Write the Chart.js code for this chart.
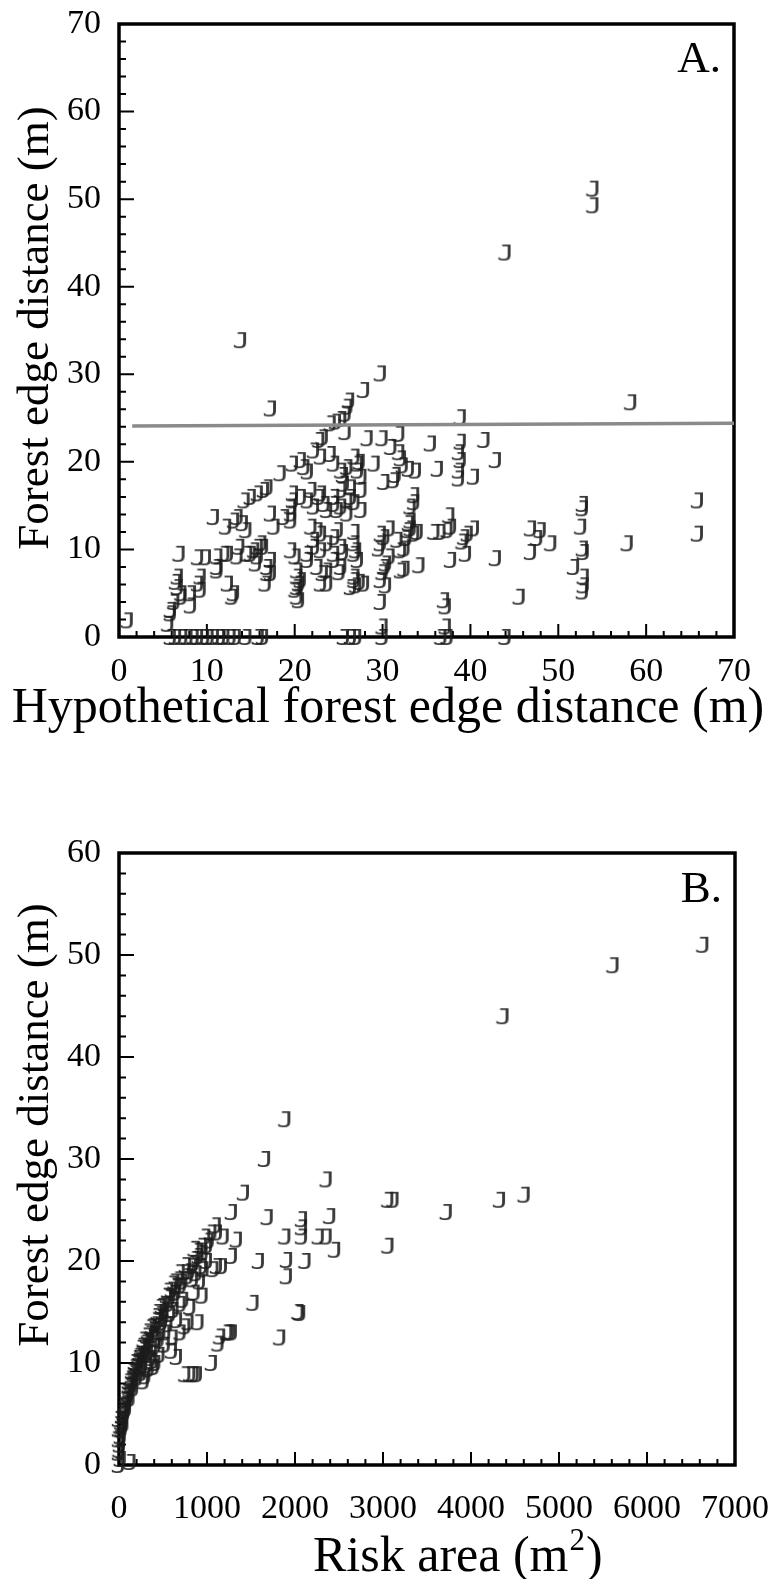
<!DOCTYPE html>
<html>
<head>
<meta charset="utf-8">
<script src="https://cdn.jsdelivr.net/npm/chart.js@4.4.0/dist/chart.umd.min.js"></script>
<style>
  html, body { margin: 0; padding: 0; background: #fff; }
  .panel { position: absolute; left: 0; width: 772px; }
  #panelA { top: 0; height: 790px; }
  #panelB { top: 790px; height: 789px; }
</style>
</head>
<body>
<div class="panel" id="panelA"><canvas id="chartA"></canvas></div>
<div class="panel" id="panelB"><canvas id="chartB"></canvas></div>
<script>
// ---- Panel A: forest edge distance vs hypothetical forest edge distance (m)
const aHypothetical = [
  54.0, 54.0, 44.0, 13.9, 29.8, 27.9, 58.3, 17.3, 26.2, 26.0, 25.8, 25.3, 24.7, 24.1, 38.9, 25.8,
  28.3, 30.0, 31.9, 35.5, 38.9, 41.6, 42.9, 38.7, 38.9, 38.7, 38.7, 40.4, 36.3, 31.9, 32.1, 32.3,
  33.0, 33.8, 31.5, 30.2, 29.1, 27.4, 27.2, 27.6, 27.6, 27.6, 25.3, 25.5, 26.4, 26.8, 24.9, 26.0,
  33.6, 33.6, 33.2, 33.0, 33.2, 34.0, 32.7, 32.5, 30.8, 30.2, 29.8, 29.6, 30.8, 30.4, 30.0, 29.8,
  30.4, 29.8, 26.8, 27.0, 25.5, 24.5, 25.1, 26.8, 27.0, 27.4, 26.4, 24.5, 32.5, 34.2, 37.8, 37.6,
  37.8, 37.4, 36.6, 35.9, 39.3, 39.1, 39.7, 40.4, 39.5, 42.9, 46.9, 48.0, 49.2, 46.9, 47.6, 45.6,
  37.0, 37.2, 37.2, 36.7, 37.4, 44.0, 30.0, 30.0, 25.6, 26.4, 27.0, 52.8, 52.8, 52.6, 65.9, 65.9,
  57.9, 52.8, 52.9, 51.8, 52.9, 52.9, 52.8,
  22.2, 22.8, 23.2, 23.0, 24.1, 21.1, 21.5, 20.7, 19.8, 18.4, 16.9, 16.5, 15.8, 15.0, 14.3, 13.5,
  13.1, 14.1, 14.5, 12.2, 10.8, 19.8, 19.8, 19.6, 19.6, 19.6, 17.3, 17.7, 18.8, 21.9, 22.2, 23.4,
  22.8, 16.9, 16.7, 17.3, 19.6, 20.1, 20.3, 20.5, 20.1, 20.3, 20.3, 21.5, 22.2, 22.6, 23.2, 23.7,
  1.0, 6.3, 7.1, 8.2, 5.9, 5.6, 9.3, 9.3, 6.5, 6.9, 9.0, 9.9, 11.2, 12.0, 12.4, 12.9,
  13.7, 13.5, 14.6, 15.4, 15.8, 15.6, 16.4,
  5.9, 6.5, 7.2, 7.8, 8.5, 9.0, 9.7, 10.2, 10.8, 11.5, 12.0, 12.7, 13.3, 14.5, 15.9, 16.4,
  20.7, 21.5, 23.0, 21.9, 24.5, 24.5, 23.7, 25.3, 26.0, 25.3, 25.6, 26.4, 26.0, 27.2, 24.5, 26.8,
  31.3, 31.0, 22.6, 23.0, 22.2, 24.9, 23.7, 23.0, 24.5, 25.3, 21.5, 25.3, 26.8, 27.2, 26.8, 29.8,
  31.7, 32.1, 32.9, 33.6, 33.2, 32.1, 30.2, 26.8, 27.9, 23.0, 23.7, 20.7, 20.3, 20.5, 17.3, 16.9,
  15.0, 15.8, 16.2, 12.4, 11.2, 9.0, 8.2, 6.7, 6.7, 7.1, 5.9, 13.1, 11.2
];
const aForestEdge = [
  51.2, 49.3, 43.9, 33.9, 30.1, 28.2, 26.8, 26.1, 27.0, 26.3, 25.5, 24.9, 24.6, 24.4, 25.1, 23.4,
  22.7, 22.7, 23.2, 22.1, 22.3, 22.5, 20.2, 21.1, 20.2, 19.0, 18.1, 18.3, 19.2, 21.1, 20.4, 19.6,
  19.2, 19.0, 18.5, 17.7, 19.8, 20.0, 19.0, 18.3, 16.8, 14.5, 19.0, 18.5, 16.0, 15.4, 14.5, 14.1,
  16.2, 15.4, 14.9, 13.0, 12.4, 12.0, 11.3, 10.1, 12.4, 11.4, 10.7, 10.1, 9.2, 8.4, 7.4, 6.5,
  5.9, 4.0, 12.0, 9.9, 9.7, 8.8, 7.4, 6.5, 5.9, 6.3, 5.7, 11.4, 7.8, 8.2, 8.8, 13.9,
  12.6, 12.2, 12.0, 12.0, 11.4, 10.9, 11.8, 12.4, 9.5, 9.0, 12.4, 12.2, 10.7, 9.7, 11.3, 4.6,
  4.2, 3.5, 1.2, 0, 0, 0, 0, 1.2, 0, 0, 0, 15.2, 14.7, 12.6, 15.6, 11.8,
  10.7, 10.1, 9.7, 8.0, 6.9, 5.9, 5.2,
  21.3, 22.5, 22.8, 20.6, 20.9, 19.4, 18.9, 20.2, 19.8, 18.7, 17.1, 16.8, 16.4, 16.0, 15.6, 13.7,
  13.3, 13.0, 12.2, 12.6, 13.7, 16.4, 15.6, 14.9, 14.1, 13.3, 14.1, 12.6, 13.7, 12.6, 14.9, 15.2,
  16.0, 8.0, 6.1, 7.3, 9.9, 9.2, 7.6, 6.1, 5.4, 4.6, 6.9, 9.5, 10.3, 8.0, 7.3, 6.1,
  1.9, 4.0, 4.6, 3.6, 2.7, 1.5, 6.9, 5.4, 6.3, 9.5, 9.1, 9.1, 7.6, 9.5, 6.1, 4.6,
  10.3, 9.2, 9.5, 9.9, 9.2, 8.4, 10.3,
  0, 0, 0, 0, 0, 0, 0, 0, 0, 0, 0, 0, 0, 0, 0, 0,
  16.0, 15.6, 16.4, 16.8, 16.0, 15.2, 14.5, 14.9, 15.6, 16.8, 17.5, 17.1, 19.4, 19.8, 19.8, 20.6,
  17.9, 21.7, 12.2, 11.8, 11.1, 12.2, 10.7, 9.9, 9.5, 10.3, 8.8, 8.0, 9.5, 8.8, 10.7, 11.8,
  11.1, 9.9, 12.2, 11.8, 13.3, 7.6, 8.0, 6.9, 6.1, 6.1, 7.6, 6.5, 5.7, 4.2, 8.8, 7.3,
  9.5, 10.3, 10.7, 9.5, 9.2, 6.1, 5.0, 6.9, 5.7, 5.0, 3.1, 5.0, 8.0
];
// fitted line drawn across panel A
const aFitX = [1.5, 70];
const aFitY = [24.1, 24.4];

// ---- Panel B: forest edge distance vs risk area (m2)
const bRiskArea = [
  6640, 5620, 4370, 1890, 1660, 2360, 1420, 3060, 3120, 4330, 4610, 3725, 1283, 1690, 2080, 2080,
  2400, 1890, 2080, 2270, 2360, 2456, 3062, 1100, 1113, 1190, 1340, 1283, 1590, 1910, 2120, 1908,
  1529, 2059, 2040, 1832, 1230, 1283, 1255, 1150, 1131, 1056, 810, 850, 886, 753, 904, 860,
  950, 810, 790, 700, 602, 659, 393, 280, 961, 1074, 1113, 1000, 1170, 942,
  980, 942, 904, 829, 753, 677, 601, 545, 488, 431, 374, 318, 261, 223, 185, 147,
  110, 80, 53, 34, 15, 0, 0, 0, 130,
  753, 526, 488, 507, 450, 413, 374, 299, 261, 223, 337, 299, 413,
  900, 870, 850, 800, 780, 720, 700, 650, 640, 620, 580, 560, 520, 500, 470, 455,
  420, 400, 390, 350, 340, 300, 290, 270, 240, 230, 200, 190, 170, 160, 140, 120,
  100, 90, 70, 60, 45, 30, 20, 10, 5, 0, 0, 20, 950, 1000, 1050, 1020,
  860, 760, 690, 630, 560, 610, 470, 440, 360, 330, 280, 250, 210, 180, 130, 110,
  85, 65, 40, 25, 330, 360, 420, 470, 550, 580, 620, 700, 730, 660, 610, 520,
  460, 380, 320, 250, 200, 160, 120, 80, 50, 880, 840, 920,
  150, 175, 210, 260, 310, 140, 105, 75, 55, 35
];
const bForestEdge = [
  51.0, 49.0, 44.0, 33.9, 30.0, 28.0, 26.7, 26.0, 26.0, 26.0, 26.5, 24.8, 24.8, 24.3, 24.1, 23.3,
  24.4, 22.4, 22.4, 22.4, 22.4, 21.1, 21.5, 23.5, 22.8, 22.4, 22.1, 20.5, 20.0, 20.1, 20.0, 18.5,
  15.9, 14.9, 15.0, 12.5, 13.0, 13.0, 13.0, 12.6, 11.9, 10.0, 8.9, 8.9, 8.9, 8.9, 14.0, 16.9,
  16.6, 15.5, 14.0, 13.0, 11.2, 10.6, 9.6, 8.2, 19.2, 19.2, 19.5, 20.0, 19.5, 19.5,
  22.4, 21.5, 20.5, 19.5, 18.9, 18.2, 17.2, 16.6, 15.6, 14.6, 13.6, 12.7, 11.7, 10.7, 9.7, 8.7,
  7.8, 6.8, 5.8, 4.8, 3.8, 2.5, 1.2, 0, 0.3,
  13.6, 13.0, 14.0, 14.6, 12.3, 11.7, 11.4, 10.7, 9.7, 9.1, 9.4, 8.7, 10.0,
  21.0, 20.2, 19.8, 19.0, 18.5, 18.0, 17.6, 17.5, 16.9, 16.3, 16.5, 15.8, 15.8, 15.0, 14.8, 14.2,
  13.8, 13.3, 12.8, 12.9, 12.2, 12.0, 11.3, 10.8, 10.9, 10.2, 10.0, 9.2, 9.0, 8.4, 8.0, 7.5,
  7.0, 6.4, 6.0, 5.2, 4.4, 3.5, 2.8, 2.0, 1.5, 3.5, 4.5, 0.6, 20.8, 21.5, 22.8, 22.0,
  21.2, 19.6, 18.9, 18.0, 17.1, 17.8, 15.5, 15.0, 13.5, 13.1, 12.3, 11.5, 10.5, 10.1, 8.5, 8.2,
  7.2, 6.4, 5.3, 4.2, 11.0, 10.5, 12.4, 13.0, 13.8, 14.8, 15.2, 15.8, 16.2, 14.2, 12.5, 11.8,
  10.8, 10.2, 9.8, 9.0, 8.5, 7.5, 6.5, 5.5, 4.0, 18.8, 18.2, 18.0,
  9.2, 9.6, 9.9, 10.6, 11.6, 7.8, 6.9, 5.9, 5.0, 3.9
];

const SERIF = '"Liberation Serif", "Times New Roman", serif';

// "J" glyph used as the plotting symbol
function makeJMarker() {
  const c = document.createElement('canvas');
  c.width = 28; c.height = 28;
  const g = c.getContext('2d');
  g.fillStyle = 'rgba(28,28,28,0.88)';
  g.font = '21px "DejaVu Sans Mono"';
  g.textAlign = 'center';
  g.textBaseline = 'alphabetic';
  g.save();
  g.translate(14, 0);
  g.scale(1.4, 1);
  g.fillText('J', 0, 21.7);
  g.restore();
  return c;
}
const jMarker = makeJMarker();

function pairs(xs, ys) {
  return xs.map((x, i) => ({ x, y: ys[i] }));
}

// frame, inward ticks, axis titles and panel letter
const framePlugin = {
  id: 'frame',
  beforeDatasetsDraw(chart, args, o) {
    const { ctx, chartArea: a } = chart;
    const xs = chart.scales.x, ys = chart.scales.y;
    ctx.save();
    ctx.strokeStyle = '#000';
    ctx.lineWidth = 2;
    ctx.beginPath();
    xs.ticks.forEach((t) => {
      const px = xs.getPixelForValue(t.value);
      const len = t.value % o.xMajor === 0 ? 13 : 6;
      ctx.moveTo(px, a.bottom); ctx.lineTo(px, a.bottom - len);
    });
    ys.ticks.forEach((t) => {
      const py = ys.getPixelForValue(t.value);
      const len = t.value % o.yMajor === 0 ? 15 : 7;
      ctx.moveTo(a.left, py); ctx.lineTo(a.left + len, py);
    });
    ctx.stroke();
    ctx.lineWidth = 3.5;
    ctx.strokeRect(a.left, a.top, a.right - a.left, a.bottom - a.top);
    ctx.restore();
  },
  afterDraw(chart, args, o) {
    const ctx = chart.ctx;
    ctx.save();
    ctx.fillStyle = '#000';
    // y title
    ctx.font = o.yTitleSize + 'px ' + SERIF;
    ctx.translate(o.yTitleX, o.yTitleY);
    ctx.rotate(-Math.PI / 2);
    ctx.textAlign = 'center';
    ctx.textBaseline = 'middle';
    ctx.fillText(o.yTitle, 0, 0);
    ctx.setTransform(1, 0, 0, 1, 0, 0);
    // x title (optional superscript)
    ctx.textBaseline = 'alphabetic';
    ctx.font = o.xTitleSize + 'px ' + SERIF;
    const main = o.xTitle, sup = o.xTitleSup || '', tail = o.xTitleTail || '';
    const supSize = Math.round(o.xTitleSize * 0.62);
    const wMain = ctx.measureText(main).width;
    const wTail = ctx.measureText(tail).width;
    ctx.font = supSize + 'px ' + SERIF;
    const wSup = ctx.measureText(sup).width;
    const total = wMain + wSup + wTail;
    const x0 = o.xTitleAlign === 'left' ? o.xTitleX : o.xTitleX - total / 2;
    ctx.textAlign = 'left';
    ctx.font = o.xTitleSize + 'px ' + SERIF;
    ctx.fillText(main, x0, o.xTitleY);
    if (sup) {
      ctx.font = supSize + 'px ' + SERIF;
      ctx.fillText(sup, x0 + wMain + 1, o.xTitleY - o.xTitleSize * 0.42);
      ctx.font = o.xTitleSize + 'px ' + SERIF;
      ctx.fillText(tail, x0 + wMain + wSup + 2, o.xTitleY);
    }
    // panel letter
    ctx.font = o.letterSize + 'px ' + SERIF;
    ctx.textAlign = 'right';
    ctx.fillText(o.letter, o.letterX, o.letterY);
    ctx.restore();
  }
};

function axisTicks(major) {
  return {
    autoSkip: false,
    maxRotation: 0,
    color: '#000',
    font: { family: SERIF, size: 34 },
    callback: (v) => (v % major === 0 ? String(v) : '')
  };
}

function baseOptions(cfg) {
  return {
    responsive: true,
    maintainAspectRatio: false,
    animation: false,
    layout: { padding: { top: cfg.padTop, right: cfg.padRight, left: 0, bottom: 0 } },
    plugins: {
      legend: { display: false },
      tooltip: { enabled: false },
      frame: cfg.frame
    },
    scales: {
      x: {
        type: 'linear', min: 0, max: cfg.xMax,
        grid: { display: false, drawTicks: false },
        border: { display: false },
        ticks: Object.assign(axisTicks(cfg.xMajor), { stepSize: cfg.xStep, padding: cfg.xPad }),
        // fixed height; end labels may spill into the page margin
        afterFit: (s) => { s.height = cfg.xHeight; s.paddingLeft = 0; s.paddingRight = 0; }
      },
      y: {
        type: 'linear', min: 0, max: cfg.yMax,
        grid: { display: false, drawTicks: false },
        border: { display: false },
        ticks: Object.assign(axisTicks(cfg.yMajor), { stepSize: 2, padding: 18 }),
        afterFit: (s) => { s.width = 119; s.paddingTop = 0; s.paddingBottom = 0; }
      }
    }
  };
}

const markerSet = (data) => ({
  type: 'scatter',
  data,
  pointStyle: jMarker,
  pointRadius: 6,
  pointHoverRadius: 6,
  clip: false
});

new Chart(document.getElementById('chartA'), {
  type: 'scatter',
  data: {
    datasets: [
      {
        type: 'line',
        data: pairs(aFitX, aFitY),
        borderColor: '#8a8a8a',
        borderWidth: 3.5,
        pointRadius: 0,
        fill: false
      },
      markerSet(pairs(aHypothetical, aForestEdge))
    ]
  },
  options: baseOptions({
    padTop: 24, padRight: 38, xHeight: 153, xPad: 15,
    xMax: 70, xStep: 2, xMajor: 10, yMax: 70, yMajor: 10,
    frame: {
      xMajor: 10, yMajor: 10,
      yTitle: 'Forest edge distance (m)', yTitleSize: 45, yTitleX: 36, yTitleY: 328,
      xTitle: 'Hypothetical forest edge distance (m)', xTitleSize: 50, xTitleX: 388, xTitleY: 722,
      letter: 'A.', letterSize: 45, letterX: 721, letterY: 72
    }
  }),
  plugins: [framePlugin]
});

new Chart(document.getElementById('chartB'), {
  type: 'scatter',
  data: { datasets: [markerSet(pairs(bRiskArea, bForestEdge))] },
  options: baseOptions({
    padTop: 63, padRight: 37, xHeight: 114, xPad: 24,
    xMax: 7000, xStep: 200, xMajor: 1000, yMax: 60, yMajor: 10,
    frame: {
      xMajor: 1000, yMajor: 10,
      yTitle: 'Forest edge distance (m)', yTitleSize: 45, yTitleX: 36, yTitleY: 335,
      xTitle: 'Risk area (m', xTitleSup: '2', xTitleTail: ')', xTitleSize: 50,
      xTitleAlign: 'left', xTitleX: 313, xTitleY: 781,
      letter: 'B.', letterSize: 45, letterX: 722, letterY: 112
    }
  }),
  plugins: [framePlugin]
});
</script>
</body>
</html>
